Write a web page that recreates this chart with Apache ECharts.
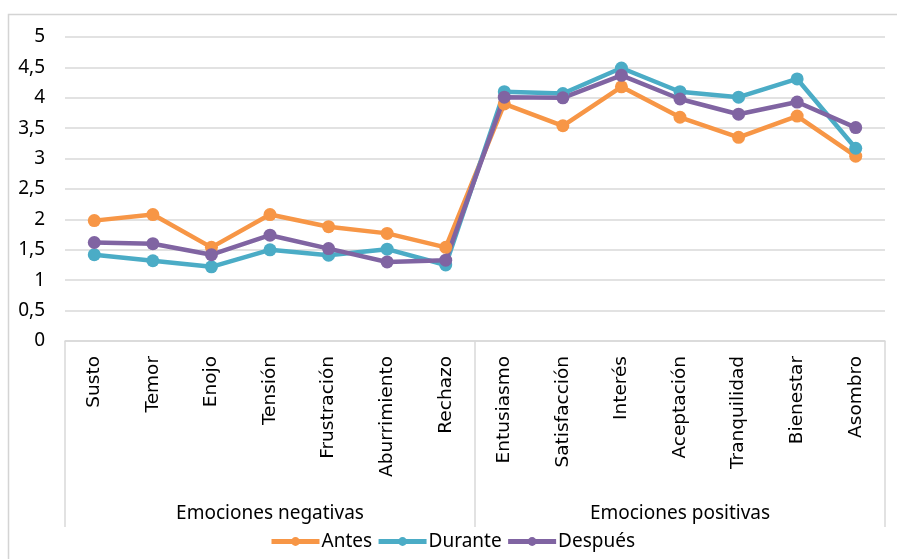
<!DOCTYPE html>
<html>
<head>
<meta charset="utf-8">
<script src="https://cdn.jsdelivr.net/npm/echarts@6/dist/echarts.min.js"></script>
<style>
  html, body { margin: 0; padding: 0; background: #fff; }
  #main { width: 897px; height: 559px; }
</style>
</head>
<body>
<div id="main"></div>
<script>
// emociones
var categorias = ['Susto', 'Temor', 'Enojo', 'Tensión', 'Frustración', 'Aburrimiento', 'Rechazo',
  'Entusiasmo', 'Satisfacción', 'Interés', 'Aceptación', 'Tranquilidad', 'Bienestar', 'Asombro'];
var grupos = ['Emociones negativas', 'Emociones positivas'];

// valores por momento
var antes = [1.98, 2.08, 1.54, 2.08, 1.88, 1.77, 1.54, 3.90, 3.54, 4.18, 3.68, 3.35, 3.70, 3.04];
var durante = [1.42, 1.32, 1.22, 1.50, 1.41, 1.51, 1.25, 4.10, 4.07, 4.49, 4.10, 4.01, 4.31, 3.17];
var despues = [1.62, 1.60, 1.42, 1.74, 1.52, 1.30, 1.33, 4.01, 4.00, 4.37, 3.98, 3.73, 3.93, 3.51];

var colores = ['#F79646', '#4BACC6', '#8064A2'];

function serie(nombre, datos, color) {
  return {
    name: nombre,
    type: 'line',
    data: datos,
    symbol: 'circle',
    symbolSize: 13,
    itemStyle: { color: color },
    lineStyle: { width: 4.5, color: color }
  };
}

var myChart = echarts.init(document.getElementById('main'));
var option = {
  animation: false,
  textStyle: { fontFamily: '"Noto Sans", sans-serif', color: '#000' },
  graphic: [{
    type: 'rect',
    shape: { x: 8.5, y: 14.5, width: 900, height: 560 },
    style: { fill: 'none', stroke: '#d4d4d4', lineWidth: 1.5 },
    silent: true
  }],
  grid: { left: 65, right: 12, top: 37, bottom: 218 },
  legend: {
    bottom: 3,
    left: 264,
    itemWidth: 48,
    itemHeight: 11,
    itemGap: 4,
    lineStyle: { width: 5 },
    textStyle: { fontSize: 19, fontFamily: '"Noto Sans", sans-serif', color: '#000', padding: [0, 0, 0, -3] },
    data: ['Antes', 'Durante', 'Después']
  },
  xAxis: [{
    type: 'category',
    data: categorias,
    boundaryGap: true,
    axisLine: { show: true, lineStyle: { color: '#d9d9d9', width: 1.5 } },
    axisTick: { show: false },
    axisLabel: { rotate: 90, fontSize: 18.5, margin: 15, color: '#000', interval: 0, fontFamily: '"DejaVu Sans", sans-serif' }
  }, {
    type: 'category',
    position: 'bottom',
    data: grupos,
    boundaryGap: true,
    axisLine: { show: false },
    axisTick: { show: true, length: 186, lineStyle: { color: '#d9d9d9', width: 1.5 } },
    axisLabel: { fontSize: 19, margin: 163, color: '#000' }
  }],
  yAxis: {
    type: 'value',
    min: 0,
    max: 5,
    interval: 0.5,
    axisLine: { show: false },
    axisTick: { show: false },
    splitLine: { lineStyle: { color: '#d9d9d9', width: 1.5 } },
    axisLabel: {
      fontSize: 19,
      margin: 20,
      color: '#000',
      formatter: function (v) { return String(v).replace('.', ','); }
    }
  },
  series: [
    serie('Antes', antes, colores[0]),
    serie('Durante', durante, colores[1]),
    serie('Después', despues, colores[2])
  ]
};
myChart.setOption(option);
</script>
</body>
</html>
